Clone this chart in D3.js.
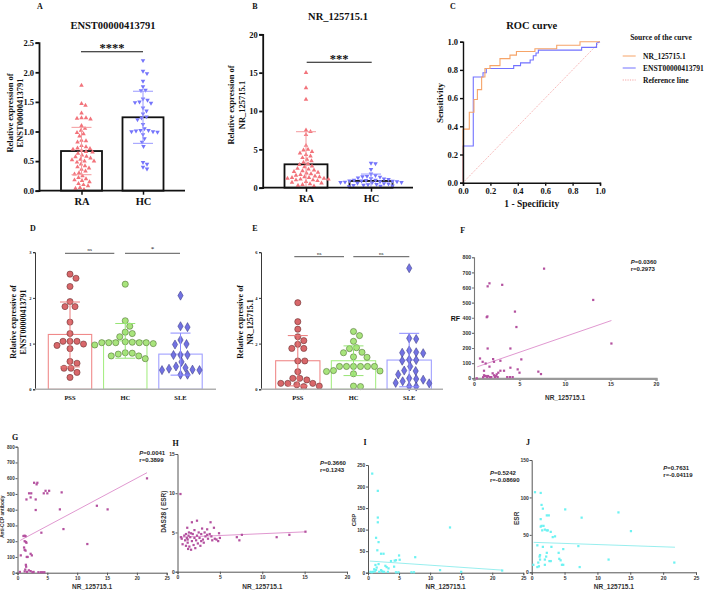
<!DOCTYPE html>
<html><head><meta charset="utf-8">
<script src="https://cdn.jsdelivr.net/npm/d3@7"></script>
<style>
body{margin:0;background:#fff}
svg{display:block}
</style>
</head><body>
<svg id="c" width="708" height="591"></svg>
<script>
// ================= DATA =================
// Panel A (ENST00000413791)
const abCats = ["RA", "HC"];
const aRA = [1.78,1.47,1.44,1.31,1.23,1.23,1.22,1.21,1.1,1.05,1.02,0.98,0.96,0.92,0.85,0.84,0.82,0.76,0.74,0.72,0.71,0.7,0.68,0.66,0.65,0.63,0.6,0.58,0.57,0.55,0.53,0.52,0.5,0.5,0.48,0.45,0.42,0.4,0.38,0.36,0.33,0.3,0.28,0.25,0.22,0.2,0.18,0.17,0.15,0.12,0.1,0.08,0.05,0.04,0.02];
const aHC = [2.2,2.02,1.98,1.85,1.76,1.7,1.69,1.55,1.53,1.5,1.49,1.48,1.4,1.35,1.3,1.25,1.23,1.2,1.12,1.05,1.02,1.02,1.01,1.0,1.0,0.99,0.95,0.88,0.82,0.75,0.48,0.45,0.4,0.37];
const aMeans = [0.67, 1.24];
const aSD = [0.40, 0.44];
const aTicks = [0, 0.5, 1.0, 1.5, 2.0, 2.5];
// Panel B (NR_125715.1)
const bRA = [15.0,13.0,11.5,7.5,7.3,6.9,5.5,5.0,4.9,4.7,4.5,4.3,4.1,3.9,3.7,3.5,3.3,3.1,3.0,2.8,2.7,2.5,2.4,2.3,2.2,2.1,2.0,1.9,1.8,1.7,1.6,1.5,1.4,1.4,1.3,1.3,1.2,1.2,1.1,1.1,1.0,1.0,0.9,0.8,0.7,0.6,0.5,0.4,0.3,0.2];
const bHC = [3.2,3.15,2.4,1.8,1.6,1.5,1.45,1.4,1.3,1.2,1.15,1.1,1.0,1.0,0.95,0.9,0.9,0.85,0.8,0.8,0.75,0.7,0.7,0.65,0.6,0.55,0.5,0.45,0.4,0.35,0.3,0.25,0.2,0.15];
const bMeans = [3.05, 0.88];
const bSD = [4.25, 0.9];
const bTicks = [0, 5, 10, 15, 20];
// Panel C (ROC)
const rocNR_fpr = [0,0,0.046,0.046,0.08,0.08,0.105,0.105,0.136,0.136,0.16,0.16,0.197,0.197,0.27,0.27,0.343,0.343,0.39,0.39,0.525,0.525,0.684,0.684,0.854,0.854,1];
const rocNR_tpr = [0,0.38,0.38,0.50,0.50,0.59,0.59,0.66,0.66,0.75,0.75,0.81,0.81,0.83,0.83,0.88,0.88,0.905,0.905,0.93,0.93,0.95,0.95,0.975,0.975,1,1];
const rocEN_fpr = [0,0,0.075,0.075,0.146,0.146,0.17,0.17,0.37,0.37,0.42,0.42,0.49,0.49,0.513,0.513,0.533,0.533,0.55,0.55,0.866,0.866,0.975,0.975,1];
const rocEN_tpr = [0,0.26,0.26,0.75,0.75,0.78,0.78,0.81,0.81,0.83,0.83,0.85,0.85,0.87,0.87,0.9,0.9,0.92,0.92,0.94,0.94,0.96,0.96,0.99,1];
const rocTicks = [0, 0.2, 0.4, 0.6, 0.8, 1.0];
const rocLegend = ["NR_125715.1", "ENST00000413791", "Reference line"];
// Panels D / E
const deCats = ["PSS", "HC", "SLE"];
const dPSS = [2.52,2.43,2.25,1.92,1.81,1.81,1.47,1.22,1.05,1.05,1.05,0.99,0.96,0.89,0.61,0.57,0.46,0.46,0.37,0.26];
const dHC = [2.3,1.5,1.38,1.25,1.22,1.15,1.04,1.02,1.02,1.02,1.02,1.02,1.03,1.0,0.97,0.8,0.79,0.77,0.73,0.73,0.67];
const dSLE = [2.05,1.38,1.36,1.08,0.99,0.98,0.75,0.75,0.75,0.6,0.5,0.47,0.45,0.43,0.42,0.42,0.32,0.32];
const dMeans = [1.2, 1.06, 0.77];
const dSD = [0.71, 0.38, 0.46];
const dTicks = [0, 1, 2, 3];
const ePSS = [3.79,2.96,2.63,2.3,2.13,1.97,1.79,1.79,1.24,1.24,0.77,0.48,0.48,0.41,0.26,0.26,0.26,0.2,0.14,0.12];
const eHC = [2.53,2.35,2.1,1.82,1.78,1.62,1.6,1.42,1.4,1.0,1.0,1.0,1.0,1.0,1.0,0.82,0.8,0.78,0.68,0.14,0.12];
const eSLE = [5.3,2.23,2.2,1.7,1.62,1.6,1.58,1.3,1.28,1.25,1.0,0.82,0.8,0.65,0.48,0.45,0.42,0.35,0.28,0.26,0.13,0.12];
const eMeans = [1.25, 1.25, 1.28];
const eSD = [1.1, 0.65, 1.17];
const eTicks = [0, 2, 4, 6];
// Panels F-J : x = NR_125715.1
const fX = [7.7,13.1,1.5,1.7,3.1,1.4,1.47,4.5,4.66,15.1,1.5,4.0,0.66,0.95,1.28,2.1,2.2,2.9,5.2,1.7,1.1,4.0,4.8,5.0,2.05,2.9,3.3,7.07,7.36,2.5,2.67,0.3,1.0,1.2,1.3,1.45,1.55,1.75,1.9,2.3,2.4,2.6,3.65,3.95,4.25,1.1,2.2];
const fY = [725,518,608,628,618,404,409,441,339,230,197,197,131,109,98,127,109,116,125,77,50,70,59,37,33,50,50,44,28,26,37,0,7,15,15,8,15,8,8,8,15,8,8,8,8,20,20];
const fLine = [[0.36, 76], [15.1, 382]];
const gX = [21.7,2.78,3.2,3.33,1.94,2.3,1.5,2.2,3.05,4.4,5.0,5.3,4.7,7.4,3.05,7.1,13.3,15.1,7.7,4.0,11.7,1.0,1.2,1.35,1.2,1.4,1.5,1.1,1.2,1.35,1.55,1.7,2.2,2.4,0.55,1.4,1.45,1.3,0.4,1.2,1.6,2.2,2.5,3.5,3.9,4.2,1.9,2.7,4.5];
const gY = [599,571,561,571,504,504,465,478,465,504,504,520,520,510,398,402,425,402,277,254,182,233,235,232,200,195,190,160,145,140,100,100,120,110,110,50,38,20,5,8,5,10,3,3,3,3,15,5,3];
const gLine = [[0.45, 205], [21.7, 635]];
const hX = [0.35,0.4,0.5,0.6,0.8,0.9,1.0,1.0,1.1,1.15,1.2,1.25,1.3,1.35,1.4,1.5,1.6,1.7,1.7,1.8,1.9,2.0,2.0,2.1,2.2,2.3,2.3,2.4,2.5,2.6,2.7,2.8,2.9,3.0,3.1,3.2,3.3,3.5,3.6,3.8,3.9,4.0,4.1,4.3,4.4,4.6,4.8,4.9,5.0,1.2,1.6,2.8,3.5,7.0,7.3,7.6,11.7,13.2,15.1];
const hY = [9.9,4.4,4.2,3.5,4.6,4.0,3.3,4.8,4.3,5.6,3.7,2.9,4.6,5.0,3.2,4.4,2.8,6.3,3.9,4.8,3.4,4.3,5.3,3.0,4.0,6.5,4.6,3.6,5.0,4.3,3.3,4.8,5.5,4.1,3.7,5.0,4.5,4.7,4.2,4.8,6.3,4.5,4.0,5.6,4.2,4.1,3.9,4.9,4.3,4.1,4.9,3.9,5.4,4.4,4.0,4.7,4.4,4.7,5.1];
const hLine = [[0.4, 4.4], [15.1, 5.08]];
const iX = [0.68,1.58,1.58,1.58,1.3,1.7,1.5,2.1,2.5,13.2,5.0,5.1,7.6,3.7,4.3,4.5,1.2,1.7,2.8,3.0,3.3,4.2,0.4,0.8,1.3,1.8,2.1,2.4,2.6,3.2,4.5,4.9,7.0,7.4,11.6,15.0,21.6,1.0,1.4,2.2,0.6,1.1];
const iY = [230,190,128,117,81,71,52,44,44,105,40,30,36,27,28,29,18,20,16,13,10,14,2,2,6,2,6,2,2,2,1,1,1,1,6,2,5,8,12,4,1,3];
const iLine = [[0.3, 27], [21.6, 6]];
const jX = [0.5,1.37,1.5,1.7,2.3,2.6,1.37,1.5,1.37,1.8,2.0,1.6,2.3,2.45,2.9,3.2,3.55,5.1,7.6,13.2,15.1,0.86,1.7,3.0,7.1,4.8,1.27,1.2,1.27,1.0,1.1,2.3,2.2,2.0,2.7,2.9,4.1,4.2,4.4,4.6,4.8,0.25,0.86,2.0,7.3,11.7,21.7];
const jY = [107,106,90,85,76,76,71,62,61,62,57,56,56,56,54,47,48,84,73,80,55,36,34,34,35,31,23,21,17,13,8,26,21,17,15,15,26,18,16,10,10,10,7,10,7,17,13];
const jLine = [[0.3, 40], [21.8, 33.5]];

// ================= DRAWING =================
const SERIF = '"Liberation Serif","Times New Roman",serif';
const SANS = '"Liberation Sans",Arial,sans-serif';
const svg = d3.select("#c");

function text(x, y, s, o = {}) {
  const t = svg.append("text").attr("x", x).attr("y", y).text(s)
    .attr("font-family", o.ff || SERIF).attr("font-size", o.fs || 9)
    .attr("font-weight", o.fw || "bold").attr("fill", o.fill || "#111")
    .attr("text-anchor", o.anchor || "middle");
  if (o.rot) t.attr("transform", `rotate(-90,${x},${y})`).attr("dominant-baseline", "central");
  return t;
}

function swarm(ys, d) {
  const idx = ys.map((y, i) => i).sort((a, b) => ys[a] - ys[b]);
  const placed = [], off = new Array(ys.length);
  for (const i of idx) {
    let best = 0;
    for (let k = 0; k < 600; k++) {
      const o = (k % 2 ? 1 : -1) * Math.ceil(k / 2) * 0.5;
      let ok = true;
      for (const p of placed) {
        const dx = p.x - o, dy = p.y - ys[i];
        if (dx * dx + dy * dy < d * d) { ok = false; break; }
      }
      if (ok) { best = o; break; }
    }
    off[i] = best; placed.push({x: best, y: ys[i]});
  }
  return off;
}

function styleAxis(g, col, w, fs, ff, fw, tcol) {
  g.selectAll(".domain").attr("stroke", col).attr("stroke-width", w);
  g.selectAll(".tick line").attr("stroke", col).attr("stroke-width", w);
  g.selectAll(".tick text").attr("font-family", ff).attr("font-size", fs)
    .attr("font-weight", fw).attr("fill", tcol || "#111");
}

// ---------- A & B ----------
function panelAB(c) {
  const g = svg.append("g");
  const y = d3.scaleLinear().domain(c.yd).range(c.yr);
  const x = d3.scalePoint().domain(abCats).range(c.xc);
  g.selectAll(null).data(abCats).join("rect")
    .attr("x", d => x(d) - c.bw / 2).attr("width", c.bw)
    .attr("y", (d, i) => y(c.means[i])).attr("height", (d, i) => y(0) - y(c.means[i]))
    .attr("fill", "#fff").attr("stroke", "#111").attr("stroke-width", 1.8);
  const sym = d3.symbol().type(d3.symbolTriangle).size(9)();
  const rot = ["", " rotate(180)"];
  const pc = ["#f2737b", "#7575fb"];
  c.series.forEach((vals, i) => {
    const offs = swarm(vals.map(v => y(v)), 4.3);
    g.selectAll(null).data(vals).join("path").attr("d", sym)
      .attr("transform", (v, j) => `translate(${x(abCats[i]) + offs[j]},${y(v)})${rot[i]}`)
      .attr("fill", pc[i]);
  });
  const ec = ["#f49a9e", "#9999ff"];
  abCats.forEach((cat, i) => {
    const lo = Math.max(0, c.means[i] - c.sd[i]), hi = c.means[i] + c.sd[i];
    const cx = x(cat);
    g.append("line").attr("x1", cx).attr("x2", cx).attr("y1", y(lo)).attr("y2", y(hi)).attr("stroke", ec[i]).attr("stroke-width", 1);
    [lo, hi].forEach(v => { if (v > 0) g.append("line").attr("x1", cx - 10).attr("x2", cx + 10).attr("y1", y(v)).attr("y2", y(v)).attr("stroke", ec[i]).attr("stroke-width", 1); });
  });
  const ay = g.append("g").attr("transform", `translate(${c.ax},0)`)
    .call(d3.axisLeft(y).tickValues(c.ticks).tickFormat(c.fmt).tickSize(3.5).tickPadding(1.5));
  styleAxis(ay, "#111", 1.8, 8.5, SERIF, "bold");
  g.append("line").attr("x1", c.ax).attr("x2", c.axEnd).attr("y1", y(0)).attr("y2", y(0)).attr("stroke", "#111").attr("stroke-width", 1.8);
  const axx = g.append("g").attr("transform", `translate(0,${y(0)})`).call(d3.axisBottom(x).tickSize(4).tickPadding(3));
  axx.select(".domain").remove();
  styleAxis(axx, "#111", 1.5, 10.5, SERIF, "bold");
  g.append("line").attr("x1", c.sig[0]).attr("x2", c.sig[1]).attr("y1", c.sig[2]).attr("y2", c.sig[2]).attr("stroke", "#111").attr("stroke-width", 1.1);
  text((c.sig[0] + c.sig[1]) / 2, c.sig[2] + 0.5, c.sigText, {fs: 12.5});
}
panelAB({yd: [0, 2.5], yr: [190.7, 42.7], xc: [81.5, 143], bw: 41, ax: 39, axEnd: 185, series: [aRA, aHC],
  means: aMeans, sd: aSD, ticks: aTicks, fmt: d3.format(".1f"), sig: [81, 143, 51.7], sigText: "****"});
panelAB({yd: [0, 20], yr: [187.7, 34.3], xc: [306, 371], bw: 43, ax: 262.7, axEnd: 413, series: [bRA, bHC],
  means: bMeans, sd: bSD, ticks: bTicks, fmt: d3.format("d"), sig: [306.7, 371.7, 62.3], sigText: "***"});
text(40, 9, "A", {fs: 8});
text(113, 29, "ENST00000413791", {fs: 10.5});
text(9.5, 113, "Relative expression of", {fs: 8.5, rot: true});
text(19.5, 113, "ENST00000413791", {fs: 8.5, rot: true});
text(255, 9, "B", {fs: 8});
text(338, 19.5, "NR_125715.1", {fs: 10.5});
text(231, 105, "Relative expression of", {fs: 8.5, rot: true});
text(242, 105, "NR_125715.1", {fs: 8.5, rot: true});

// ---------- C ROC ----------
(function () {
  const g = svg.append("g");
  const x = d3.scaleLinear().domain([0, 1]).range([463, 600]);
  const y = d3.scaleLinear().domain([0, 1]).range([182.7, 41.7]);
  g.append("line").attr("x1", x(0)).attr("y1", y(0)).attr("x2", x(1)).attr("y2", y(1))
    .attr("stroke", "#f4a3a3").attr("stroke-width", 0.9).attr("stroke-dasharray", "1.2,1.2");
  const line = d3.line().x(d => x(d[0])).y(d => y(d[1]));
  g.append("path").attr("d", line(rocEN_fpr.map((f, i) => [f, rocEN_tpr[i]]))).attr("fill", "none").attr("stroke", "#7272ff").attr("stroke-width", 1.1);
  g.append("path").attr("d", line(rocNR_fpr.map((f, i) => [f, rocNR_tpr[i]]))).attr("fill", "none").attr("stroke", "#f6a468").attr("stroke-width", 1.1);
  const ax = g.append("g").attr("transform", `translate(0,${y(0)})`).call(d3.axisBottom(x).tickValues(rocTicks).tickFormat(d3.format(".1f")).tickSize(3).tickPadding(2));
  styleAxis(ax, "#111", 1.4, 8.5, SERIF, "bold");
  const ay = g.append("g").attr("transform", `translate(${x(0)},0)`).call(d3.axisLeft(y).tickValues(rocTicks).tickFormat(d3.format(".1f")).tickSize(3).tickPadding(2));
  styleAxis(ay, "#111", 1.4, 8.5, SERIF, "bold");
  text(453, 9, "C", {fs: 8});
  text(531.7, 29, "ROC curve", {fs: 10.5});
  text(531.7, 207, "1 - Specificity", {fs: 9.5});
  text(440, 103, "Sensitivity", {fs: 9, rot: true});
  text(661, 40, "Source of the curve", {fs: 7.5});
  const lc = ["#f6a468", "#7272ff", "#f4a3a3"];
  rocLegend.forEach((s, i) => {
    const yy = 56 + i * 12;
    const l = g.append("line").attr("x1", 622.7).attr("x2", 635.7).attr("y1", yy).attr("y2", yy).attr("stroke", lc[i]).attr("stroke-width", 1);
    if (i === 2) l.attr("stroke-dasharray", "1.2,1.2");
    text(643, yy + 2.6, s, {fs: 7.5, anchor: "start"});
  });
})();

// ---------- D & E ----------
function panelDE(c) {
  const g = svg.append("g");
  const y = d3.scaleLinear().domain(c.yd).range(c.yr);
  const x = d3.scalePoint().domain(deCats).range(c.xc);
  const bc = ["#f08a8a", "#a8ee86", "#a0a0ff"];
  const ec = ["#ea7a7a", "#96e474", "#8a8aff"];
  const fc = ["#d8676a", "#a8e47c", "#7272e2"];
  const sc = ["#552222", "#3f5f24", "#33337a"];
  g.selectAll(null).data(deCats).join("rect")
    .attr("x", d => x(d) - c.bw / 2).attr("width", c.bw)
    .attr("y", (d, i) => y(c.means[i])).attr("height", (d, i) => y(0) - y(c.means[i]))
    .attr("fill", "#fff").attr("stroke", (d, i) => bc[i]).attr("stroke-width", 1.1);
  c.series.forEach((vals, i) => {
    const offs = swarm(vals.map(v => y(v)), 6.9);
    const sym = i === 2 ? d3.symbol().type(d3.symbolDiamond).size(24)() : d3.symbol().type(d3.symbolCircle).size(30)();
    g.selectAll(null).data(vals).join("path").attr("d", sym)
      .attr("transform", (v, j) => `translate(${x(deCats[i]) + offs[j]},${y(v)})`)
      .attr("fill", fc[i]).attr("stroke", sc[i]).attr("stroke-width", 0.5);
  });
  deCats.forEach((cat, i) => {
    const lo = Math.max(0, c.means[i] - c.sd[i]), hi = c.means[i] + c.sd[i];
    const cx = x(cat);
    g.append("line").attr("x1", cx).attr("x2", cx).attr("y1", y(lo)).attr("y2", y(hi)).attr("stroke", ec[i]).attr("stroke-width", 1);
    [lo, hi].forEach(v => g.append("line").attr("x1", cx - 10).attr("x2", cx + 10).attr("y1", y(v)).attr("y2", y(v)).attr("stroke", ec[i]).attr("stroke-width", 1));
  });
  const ay = g.append("g").attr("transform", `translate(${c.ax},0)`)
    .call(d3.axisLeft(y).tickValues(c.ticks).tickFormat(d3.format("d")).tickSize(2).tickPadding(1.5));
  styleAxis(ay, "#222", 0.9, 4.5, SERIF, "bold");
  g.append("line").attr("x1", c.ax).attr("x2", c.axEnd).attr("y1", y(0)).attr("y2", y(0)).attr("stroke", "#b0b0b0").attr("stroke-width", 1.6);
  deCats.forEach(cat => text(x(cat), y(0) + 11, cat, {fs: 6.5}));
  c.sig.forEach(s => {
    g.append("line").attr("x1", s[0]).attr("x2", s[1]).attr("y1", s[2]).attr("y2", s[2]).attr("stroke", "#444").attr("stroke-width", 0.9);
    text((s[0] + s[1]) / 2, s[2] - 2, s[3], {fs: s[3] === "*" ? 7 : 5, fw: "normal"});
  });
}
panelDE({yd: [0, 3], yr: [389.3, 252.2], xc: [70, 180.5], bw: 43.4, ax: 35, axEnd: 216, series: [dPSS, dHC, dSLE],
  means: dMeans, sd: dSD, ticks: dTicks, sig: [[65, 114.3, 253.3, "ns"], [125, 180, 253.3, "*"]]});
panelDE({yd: [0, 6], yr: [389.3, 252.2], xc: [297.8, 409.2], bw: 44.3, ax: 261, axEnd: 443, series: [ePSS, eHC, eSLE],
  means: eMeans, sd: eSD, ticks: eTicks, sig: [[294.3, 344, 256.7, "ns"], [353.3, 409.3, 256.7, "ns"]]});
text(33, 231, "D", {fs: 8});
text(13, 322, "Relative expressive of", {fs: 8, rot: true});
text(23.5, 322, "ENST00000413791", {fs: 8, rot: true});
text(255, 231, "E", {fs: 8});
text(240, 322, "Relative expressive of", {fs: 8, rot: true});
text(250.5, 322, "NR_125715.1", {fs: 8, rot: true});

// ---------- F - J scatter ----------
function scatter(c) {
  const g = svg.append("g");
  const x = d3.scaleLinear().domain(c.xd).range(c.xr);
  const y = d3.scaleLinear().domain(c.yd).range(c.yr);
  const ax = g.append("g").attr("transform", `translate(0,${c.yr[0]})`)
    .call(d3.axisBottom(x).tickValues(c.xt).tickSize(2.5).tickPadding(1.5));
  styleAxis(ax, c.axc, c.axw, c.tf, SANS, "bold", "#333");
  const ay = g.append("g").attr("transform", `translate(${c.xr[0]},0)`)
    .call(d3.axisLeft(y).tickValues(c.yt).tickSize(2).tickPadding(0.8));
  styleAxis(ay, c.ayc, c.ayw, c.tf, SANS, "bold", "#333");
  g.append("line").attr("x1", x(c.line[0][0])).attr("y1", y(c.line[0][1]))
    .attr("x2", x(c.line[1][0])).attr("y2", y(c.line[1][1]))
    .attr("stroke", c.lc).attr("stroke-width", 0.9);
  const sym = d3.symbol().type(d3.symbolSquare).size(5)();
  g.selectAll(null).data(c.px).join("path").attr("d", sym)
    .attr("transform", (v, i) => `translate(${x(v)},${y(c.py[i])})`)
    .attr("fill", c.pc);
  text((c.xr[0] + c.xr[1]) / 2, c.xlabY, "NR_125715.1", {ff: SANS, fs: 6.5, fill: "#333"});
  const t1 = svg.append("text").attr("x", c.ann[0]).attr("y", c.ann[1])
    .attr("font-family", SANS).attr("font-size", 6).attr("font-weight", "bold").attr("fill", "#222");
  t1.append("tspan").attr("font-style", "italic").text("P");
  t1.append("tspan").text("=" + c.p);
  text(c.ann[0], c.ann[1] + 7, "r=" + c.r, {ff: SANS, fs: 6, anchor: "start", fill: "#222"});
}
const pink = "#b4519f", pinkLine = "#dc8ccb", cyan = "#6df2f2", cyanLine = "#8cecec";
scatter({xd: [0, 20], xr: [474, 656], yd: [0, 800], yr: [378.3, 257.3], xt: [0, 5, 10, 15, 20], yt: d3.range(0, 801, 100), tf: 5.2,
  axc: "#9a9a9a", axw: 2.2, ayc: "#777", ayw: 1.1, line: fLine, lc: pinkLine, px: fX, py: fY, pc: pink,
  xlabY: 399.5, ann: [630.7, 263.5], p: "0.0360", r: "0.2973"});
scatter({xd: [0, 25], xr: [17.5, 166.7], yd: [0, 800], yr: [572.7, 446.7], xt: [0, 5, 10, 15, 20, 25], yt: d3.range(0, 801, 100), tf: 4.6,
  axc: "#555", axw: 1, ayc: "#555", ayw: 1, line: gLine, lc: pinkLine, px: gX, py: gY, pc: pink,
  xlabY: 589, ann: [139.3, 454.5], p: "0.0041", r: "0.3899"});
scatter({xd: [0, 20], xr: [177.5, 347], yd: [0, 15], yr: [571.7, 454], xt: [0, 5, 10, 15, 20], yt: [0, 5, 10, 15], tf: 5,
  axc: "#555", axw: 1, ayc: "#555", ayw: 1, line: hLine, lc: pinkLine, px: hX, py: hY, pc: pink,
  xlabY: 589, ann: [320, 464.5], p: "0.3660", r: "0.1243"});
scatter({xd: [0, 25], xr: [368, 523.3], yd: [0, 250], yr: [572.7, 465], xt: [0, 5, 10, 15, 20, 25], yt: [0, 50, 100, 150, 200, 250], tf: 4.8,
  axc: "#555", axw: 1, ayc: "#555", ayw: 1, line: iLine, lc: cyanLine, px: iX, py: iY, pc: cyan,
  xlabY: 589, ann: [490, 475], p: "0.5242", r: "-0.08690"});
scatter({xd: [0, 25], xr: [531.7, 696], yd: [0, 150], yr: [572.3, 460], xt: [0, 5, 10, 15, 20, 25], yt: [0, 50, 100, 150], tf: 5,
  axc: "#555", axw: 1, ayc: "#555", ayw: 1, line: jLine, lc: cyanLine, px: jX, py: jY, pc: cyan,
  xlabY: 589, ann: [663.3, 470], p: "0.7631", r: "-0.04119"});
text(462.7, 233, "F", {fs: 8});
text(15, 440, "G", {fs: 8});
text(175.5, 446, "H", {fs: 8});
text(365, 445, "I", {fs: 8});
text(528, 445, "J", {fs: 8});
text(460, 320.5, "RF", {ff: SANS, fs: 7, anchor: "end"});
text(2.6, 516.7, "Anti-CCP antibody", {ff: SANS, fs: 4.8, rot: true, fill: "#333"});
text(163.3, 511.7, "DAS28 ( ESR)", {ff: SANS, fs: 6.5, rot: true, fill: "#333"});
text(354, 520, "CRP", {ff: SANS, fs: 6, rot: true, fill: "#333"});
text(516.7, 518.3, "ESR", {ff: SANS, fs: 6.5, rot: true, fill: "#333"});
</script>
</body></html>
